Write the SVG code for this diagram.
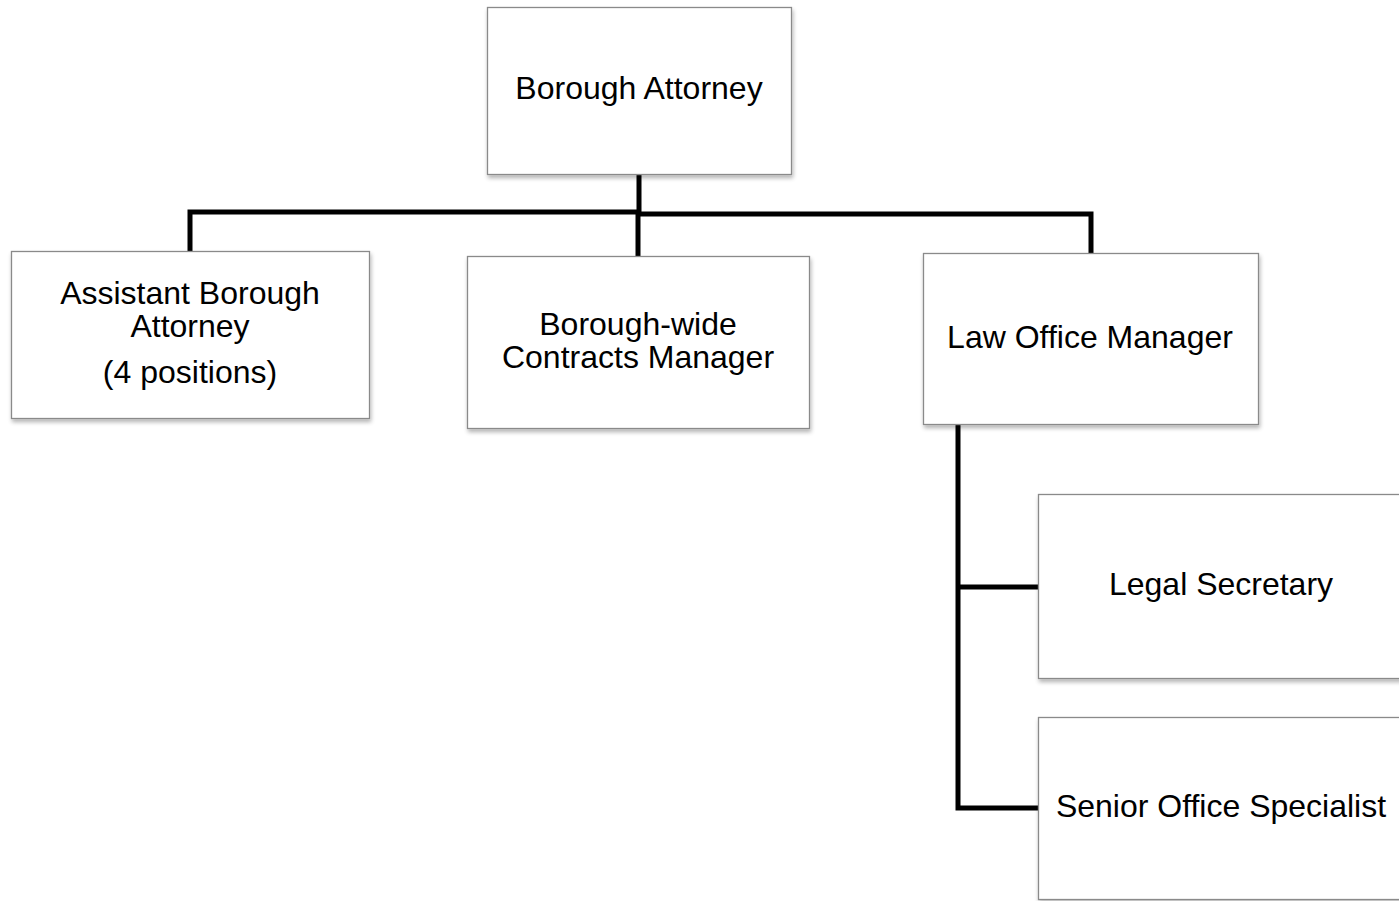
<svg xmlns="http://www.w3.org/2000/svg" width="1399" height="901" viewBox="0 0 1399 901">
<style>
.box{fill:#fff;stroke:#8a8a8a;stroke-width:1.3;filter:url(#sh)}
.lbl{font-family:"Liberation Sans",Arial,sans-serif;font-size:32px;fill:#000;text-anchor:middle}
.con{fill:none;stroke:#000;stroke-width:5;stroke-linejoin:miter}
</style>
<defs>
<filter id="sh" x="-10%" y="-10%" width="120%" height="130%">
<feGaussianBlur in="SourceAlpha" stdDeviation="2"/>
<feOffset dx="1" dy="3" result="b"/>
<feComponentTransfer><feFuncA type="linear" slope="0.3"/></feComponentTransfer>
<feMerge><feMergeNode/><feMergeNode in="SourceGraphic"/></feMerge>
</filter>
</defs>
<rect width="1399" height="901" fill="#fff"/>
<g id="connectors">
<path class="con" d="M639 174V212H190V251"/>
<path class="con" d="M639 212V214H1091V253"/>
<path class="con" d="M638 212V256"/>
<path class="con" d="M958 424V808H1038"/>
<path class="con" d="M958 587H1038"/>
</g>
<g id="n-borough-attorney">
<rect class="box" x="487.5" y="7.5" width="304" height="167"/>
<text class="lbl" x="639" y="99">Borough Attorney</text>
</g>
<g id="n-assistant">
<rect class="box" x="11.5" y="251.5" width="358" height="167"/>
<text class="lbl" x="190" y="304">Assistant Borough</text>
<text class="lbl" x="190" y="337">Attorney</text>
<text class="lbl" x="190" y="383">(4 positions)</text>
</g>
<g id="n-contracts">
<rect class="box" x="467.5" y="256.5" width="342" height="172"/>
<text class="lbl" x="638" y="335">Borough-wide</text>
<text class="lbl" x="638" y="368">Contracts Manager</text>
</g>
<g id="n-law-office">
<rect class="box" x="923.5" y="253.5" width="335" height="171"/>
<text class="lbl" x="1090" y="348">Law Office Manager</text>
</g>
<g id="n-legal-secretary">
<rect class="box" x="1038.5" y="494.5" width="370" height="184"/>
<text class="lbl" x="1221" y="595">Legal Secretary</text>
</g>
<g id="n-senior-office">
<rect class="box" x="1038.5" y="717.5" width="370" height="182"/>
<text class="lbl" x="1221" y="817">Senior Office Specialist</text>
</g>
</svg>
